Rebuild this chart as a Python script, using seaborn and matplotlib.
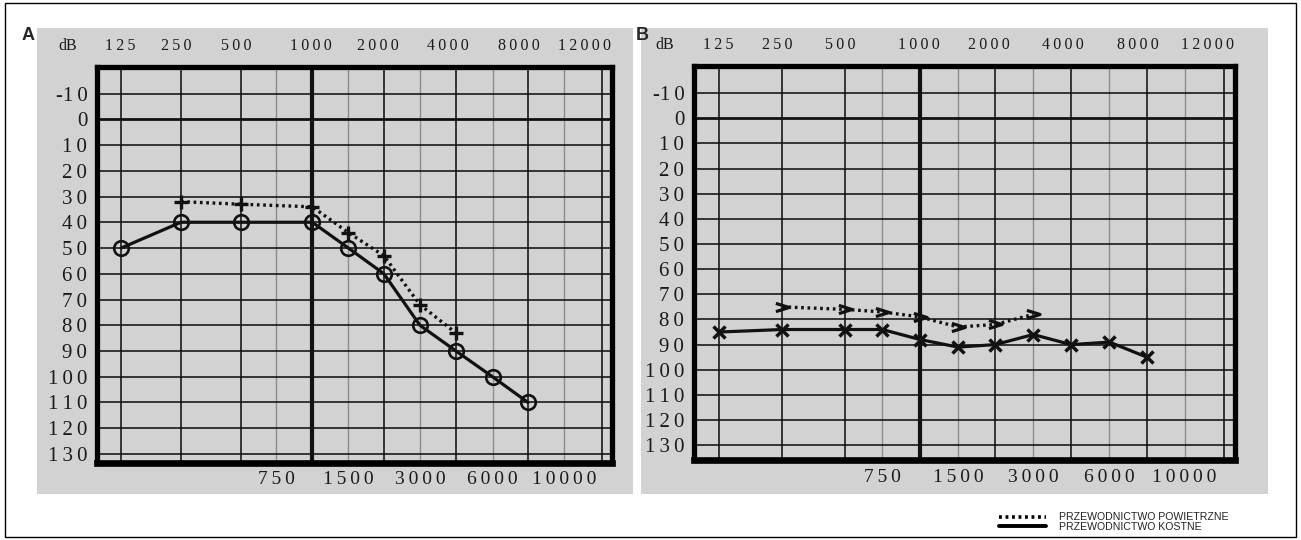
import numpy as np
import matplotlib
matplotlib.use("Agg")
import matplotlib.pyplot as plt
import matplotlib.transforms as mtransforms
from matplotlib.path import Path
from matplotlib.patches import Rectangle
from matplotlib.lines import Line2D
import seaborn as sns

# ---- audiogram A ----
freq_air_a = [250, 500, 1000, 1500, 2000, 3000, 4000]
db_air_a = [32, 33, 34, 44, 53, 72, 83]
freq_bone_a = [125, 250, 500, 1000, 1500, 2000, 3000, 4000, 6000, 8000]
db_bone_a = [50, 40, 40, 40, 50, 60, 80, 90, 100, 110]

# ---- audiogram B ----
freq_air_b = [250, 500, 750, 1000, 1500, 2000, 3000]
db_air_b = [75, 76, 77, 79, 83, 82, 78]
freq_bone_b = [125, 250, 500, 750, 1000, 1500, 2000, 3000, 4000, 6000, 8000]
db_bone_b = [85, 84, 84, 84, 88, 91, 90, 86, 90, 89, 95]

# ---- axis labelling ----
top_freqs = [125, 250, 500, 1000, 2000, 4000, 8000, 12000]
bottom_freqs = [750, 1500, 3000, 6000, 10000]
db_ticks = list(range(-10, 140, 10))
panel_letters = ["A", "B"]
legend_labels = ["PRZEWODNICTWO POWIETRZNE", "PRZEWODNICTWO KOSTNE"]

# audiometer column layout: each frequency column sits at a fixed fraction of the grid width
COL_FREQ = [100, 125, 250, 500, 750, 1000, 1500, 2000, 3000, 4000, 6000, 8000, 10000, 12000, 13000]
COL_POS = [0.0, .047, .163, .28, .348, .418, .488, .557, .627, .697, .768, .837, .907, .98, 1.0]
# horizontal shift (px) of the printed header labels relative to their columns
TOP_NUDGE_PX = [-1, -5, -5, -1, -6, -8, -9, -17]


def col_forward(f):
    return np.interp(np.asarray(f, dtype=float), COL_FREQ, COL_POS)


def col_inverse(p):
    return np.interp(np.asarray(p, dtype=float), COL_POS, COL_FREQ)


def spaced(v):
    """Letter-spaced number, keeping a leading minus sign attached."""
    s = str(v)
    sign = "-" if s.startswith("-") else ""
    return sign + "\u2009".join(s.lstrip("-"))


sns.set_style("white")
plt.rcParams["font.family"] = ["Liberation Serif", "DejaVu Serif"]

W, H = 1301, 540
fig = plt.figure(figsize=(W / 100, H / 100), dpi=100)

BG = "#d2d2d2"
INK = "#111111"
TXT = "#1a1a1a"


def fig_rect(x0, y0, x1, y1, **kw):
    """Rectangle given in pixel coordinates measured from the top-left corner."""
    return Rectangle((x0 / W, 1 - y1 / H), (x1 - x0) / W, (y1 - y0) / H,
                     transform=fig.transFigure, **kw)


# outer frame of the figure and the grey panel backgrounds
fig.patches.append(fig_rect(5, 3, 1296, 537, fill=False, edgecolor="black", lw=1.0, zorder=-10))
fig.patches.append(fig_rect(37, 28, 633, 494, facecolor=BG, edgecolor="none", zorder=-5))
fig.patches.append(fig_rect(641, 28, 1268, 494, facecolor=BG, edgecolor="none", zorder=-5))

# axes boxes (pixel coordinates, top-left origin), dB limits and letter position
panels = [
    dict(box=(97, 67, 612, 463), ylim=(133.5, -20.3), letter_xy=(28, 35)),
    dict(box=(694, 66, 1235, 460), ylim=(135.9, -20.8), letter_xy=(642, 35)),
]

chevron = Path([(-1.0, 0.62), (1.0, 0.0), (-1.0, -0.62)],
               [Path.MOVETO, Path.LINETO, Path.LINETO])

series = [
    (freq_air_a, db_air_a, freq_bone_a, db_bone_a, "+", "o"),
    (freq_air_b, db_air_b, freq_bone_b, db_bone_b, chevron, "x"),
]

for p, (fa, da, fb, dbb, m_air, m_bone), letter in zip(panels, series, panel_letters):
    x0, y0, x1, y1 = p["box"]
    ax = fig.add_axes([x0 / W, 1 - y1 / H, (x1 - x0) / W, (y1 - y0) / H])
    ax.set_facecolor(BG)
    ax.set_xscale("function", functions=(col_forward, col_inverse))

    # grid
    for f in [125, 250, 500, 2000, 4000, 8000, 12000]:
        ax.axvline(f, color=INK, lw=1.15, zorder=1)
    for f in bottom_freqs:
        ax.axvline(f, color="#8c8c8c", lw=1.0, zorder=1)
    ax.axvline(1000, color=INK, lw=3.0, zorder=1)
    for d in db_ticks:
        ax.axhline(d, color=INK, lw=2.0 if d == 0 else 1.15, zorder=1)

    # bone conduction (solid) and air conduction (dotted)
    if m_bone == "o":
        bone_kw = dict(marker="o", markersize=10.5, markerfacecolor="none",
                       markeredgecolor=INK, markeredgewidth=1.9)
    else:
        bone_kw = dict(marker="x", markersize=9, markeredgecolor=INK, markeredgewidth=2.5)
    sns.lineplot(x=fb, y=dbb, ax=ax, color=INK, lw=2.3, zorder=4, **bone_kw)

    if m_air == "+":
        air_kw = dict(marker="+", markersize=10.5, markeredgecolor=INK, markeredgewidth=2.4)
    else:
        air_kw = dict(marker=m_air, markersize=9.5, markerfacecolor="none",
                      markeredgecolor=INK, markeredgewidth=2.3)
    sns.lineplot(x=fa, y=da, ax=ax, color=INK, lw=2.4, linestyle=(0, (0.8, 1.1)),
                 zorder=5, **air_kw)

    ax.set_xlim(100, 13000)
    ax.set_ylim(*p["ylim"])
    ax.set_xlabel("")
    ax.set_ylabel("")

    for s in ax.spines.values():
        s.set_visible(True)
        s.set_color("black")
        s.set_linewidth(3.8)
        s.set_zorder(6)
    ax.spines["bottom"].set_linewidth(4.8)

    ax.set_xticks([])
    ax.set_yticks(db_ticks)
    ax.set_yticklabels([spaced(d) for d in db_ticks], fontsize=15, color=TXT)
    ax.tick_params(axis="y", length=0, pad=7)
    ax.minorticks_off()

    # frequency labels above and below the grid
    h_px = y1 - y0
    for f, dx in zip(top_freqs, TOP_NUDGE_PX):
        nudge = mtransforms.ScaledTranslation(dx / 100, 0, fig.dpi_scale_trans)
        top_tr = mtransforms.blended_transform_factory(ax.transData, ax.transAxes) + nudge
        ax.text(f, 1 + 21 / h_px, spaced(f), transform=top_tr,
                ha="center", va="center", fontsize=11.5, color=TXT)
    bot_tr = mtransforms.blended_transform_factory(ax.transData, ax.transAxes)
    for f in bottom_freqs:
        ax.text(f, -17 / h_px, spaced(f), transform=bot_tr,
                ha="center", va="center", fontsize=14, color=TXT)
    ax.text(-29 / (x1 - x0), 1 + 21 / h_px, "dB", transform=ax.transAxes,
            ha="center", va="center", fontsize=11.5, color=TXT)

    # panel letter
    lx, ly = p["letter_xy"]
    fig.text(lx / W, 1 - ly / H, letter, ha="center", va="center",
             fontsize=13, fontweight="bold",
             family=["Liberation Sans Narrow", "Liberation Sans", "DejaVu Sans"])

# legend
handles = [
    Line2D([], [], color="black", lw=2.6, linestyle=(0, (0.8, 1.0))),
    Line2D([], [], color="black", lw=2.8),
]
fig.legend(handles, legend_labels, loc="center left",
           bbox_to_anchor=(994 / W, 1 - 522 / H), frameon=False,
           prop=dict(family=["Liberation Sans Narrow", "Liberation Sans", "DejaVu Sans"], size=7.6),
           labelcolor="#222222",
           handlelength=4.4, handletextpad=1.3, labelspacing=-0.05, borderpad=0)

fig.savefig("out.png", dpi=100)
